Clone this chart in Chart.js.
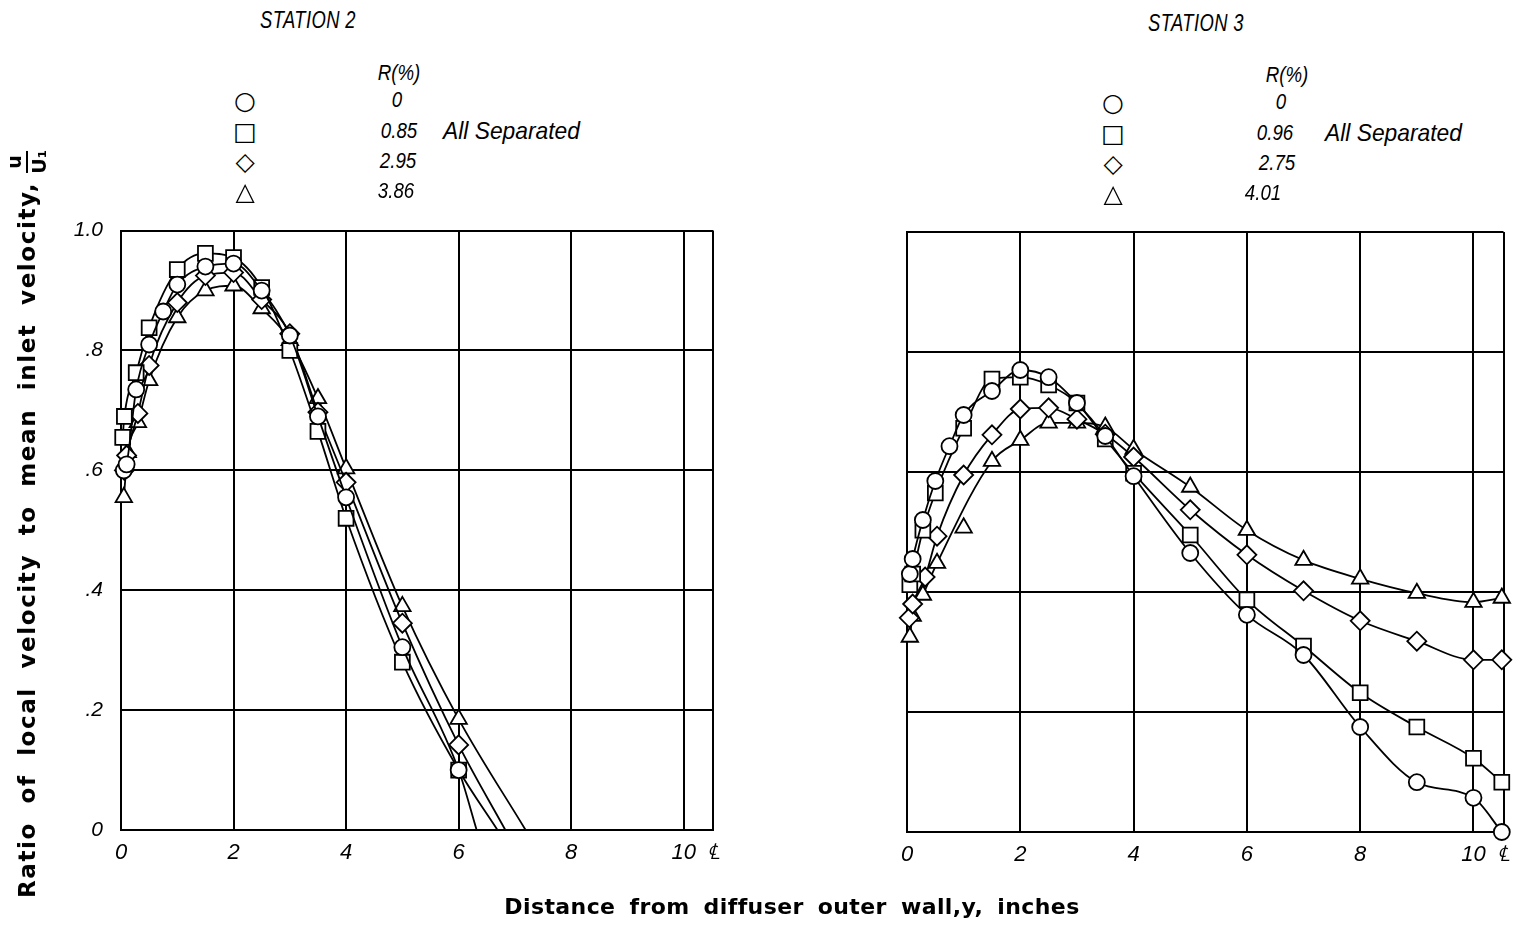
<!DOCTYPE html>
<html><head><meta charset="utf-8">
<script src="https://cdn.jsdelivr.net/npm/chart.js@4"></script>
<style>
html,body{margin:0;padding:0;background:#fff;width:1520px;height:931px;overflow:hidden;position:relative;color:#000}
.abs{position:absolute;white-space:nowrap;line-height:1}
canvas{position:absolute}
.hand{font-family:"Liberation Sans","DejaVu Sans",sans-serif;font-style:italic}
.title{font-size:23px;transform:translate(-50%,-50%) scaleX(0.8);letter-spacing:0.5px}
.val{font-size:22px;transform:translate(-50%,-50%) scaleX(0.85)}
.sym{font-family:"DejaVu Sans",sans-serif;font-size:25px;transform:translate(-50%,-50%)}
.note{font-size:24px;transform:translate(0,-50%) scaleX(0.95);transform-origin:left center}
.axt{font-family:"DejaVu Sans",sans-serif;font-weight:bold;font-size:22px;letter-spacing:0.4px;word-spacing:6px}
.axy{font-family:"DejaVu Sans",sans-serif;font-weight:bold;font-size:23px;letter-spacing:1.6px;word-spacing:9px}
</style></head><body>
<canvas id="c2" width="760" height="700" style="left:0;top:200px;width:760px;height:700px"></canvas>
<canvas id="c3" width="660" height="700" style="left:860px;top:200px;width:660px;height:700px"></canvas>
<div id="overlay"></div>
<script>
// ---------- data ----------
const xTickValues = [0, 2, 4, 6, 8, 10];
const yTickValues = [0, 0.2, 0.4, 0.6, 0.8, 1.0];
const yTickLabels = ['0', '.2', '.4', '.6', '.8', '1.0'];
const centerLabel = '\u2104';
const stationTitles = ['STATION 2', 'STATION 3'];
const legendHeader = 'R(%)';
const legendNote = 'All Separated';
const legendSymbols = ['\u25CB', '\u25A1', '\u25C7', '\u25B3'];
const markerStyles = ['circle', 'rect', 'rectRot', 'triangle'];
const station2Ratios = ['0', '0.85', '2.95', '3.86'];
const station3Ratios = ['0', '0.96', '2.75', '4.01'];
const yAxisTitle = 'Ratio of local velocity to mean inlet velocity,';
const xAxisTitle = 'Distance from diffuser outer wall,y, inches';

// Station 2 (y in inches, u/U1)
const s2CircleX = [0.05, 0.1, 0.27, 0.5, 0.75, 1.0, 1.5, 2.0, 2.5, 3.0, 3.5, 4.0, 5.0, 6.0];
const s2CircleY = [0.60, 0.61, 0.735, 0.81, 0.865, 0.91, 0.94, 0.945, 0.90, 0.825, 0.69, 0.555, 0.305, 0.10];
const s2SquareX = [0.03, 0.06, 0.27, 0.5, 1.0, 1.5, 2.0, 2.5, 3.0, 3.5, 4.0, 5.0, 6.0];
const s2SquareY = [0.655, 0.69, 0.763, 0.838, 0.935, 0.962, 0.955, 0.905, 0.80, 0.665, 0.52, 0.28, 0.10];
const s2DiamondX = [0.06, 0.1, 0.3, 0.5, 1.0, 1.5, 2.0, 2.5, 3.0, 3.5, 4.0, 5.0, 6.0];
const s2DiamondY = [0.60, 0.625, 0.695, 0.775, 0.88, 0.925, 0.93, 0.885, 0.828, 0.697, 0.58, 0.345, 0.142];
const s2TriangleX = [0.05, 0.12, 0.3, 0.5, 1.0, 1.5, 2.0, 2.5, 3.0, 3.5, 4.0, 5.0, 6.0];
const s2TriangleY = [0.555, 0.63, 0.68, 0.75, 0.855, 0.90, 0.908, 0.87, 0.817, 0.72, 0.603, 0.373, 0.185];
const s2CurveZeroX = [6.32, 6.69, 6.83, 7.19]; // where the faired curves reach u/U1 = 0

// Station 3
const s3CircleX = [0.05, 0.1, 0.28, 0.5, 0.75, 1.0, 1.5, 2.0, 2.5, 3.0, 3.5, 4.0, 5.0, 6.0, 7.0, 8.0, 9.0, 10.0, 10.5];
const s3CircleY = [0.43, 0.455, 0.52, 0.585, 0.643, 0.695, 0.735, 0.77, 0.758, 0.715, 0.66, 0.593, 0.465, 0.362, 0.295, 0.175, 0.083, 0.057, 0.0];
const s3SquareX = [0.05, 0.1, 0.28, 0.5, 1.0, 1.5, 2.0, 2.5, 3.0, 3.5, 4.0, 5.0, 6.0, 7.0, 8.0, 9.0, 10.0, 10.5];
const s3SquareY = [0.412, 0.43, 0.503, 0.565, 0.673, 0.755, 0.758, 0.745, 0.715, 0.655, 0.598, 0.495, 0.387, 0.31, 0.232, 0.175, 0.123, 0.083];
const s3DiamondX = [0.04, 0.1, 0.32, 0.53, 1.0, 1.5, 2.0, 2.5, 3.0, 3.5, 4.0, 5.0, 6.0, 7.0, 8.0, 9.0, 10.0, 10.5];
const s3DiamondY = [0.357, 0.38, 0.425, 0.493, 0.595, 0.662, 0.705, 0.707, 0.688, 0.663, 0.625, 0.537, 0.462, 0.402, 0.352, 0.318, 0.287, 0.287];
const s3TriangleX = [0.05, 0.1, 0.28, 0.53, 1.5, 2.0, 2.5, 3.0, 3.5, 4.0, 5.0, 6.0, 7.0, 8.0, 9.0, 10.0, 10.5];
const s3TriangleY = [0.325, 0.36, 0.395, 0.448, 0.618, 0.653, 0.682, 0.682, 0.675, 0.638, 0.575, 0.503, 0.453, 0.422, 0.398, 0.383, 0.39];
const s3TriangleOffCurveX = [1.0];
const s3TriangleOffCurveY = [0.507];

// ---------- build ----------
const radii = {circle: 8, rect: 10.5, rectRot: 9.5, triangle: 9.5};
function pts(xs, ys) { return xs.map((x, i) => ({x: x, y: ys[i]})); }

function series(xs, ys, style, zeroX) {
  const data = pts(xs, ys);
  const n = data.length;
  if (zeroX !== undefined) data.push({x: zeroX, y: 0});
  return {
    data: data,
    clip: false,
    pointStyle: style,
    pointRadius: ctx => (zeroX !== undefined && ctx.dataIndex === n) ? 0 : radii[style],
    pointBackgroundColor: '#fff',
    pointBorderColor: '#000',
    pointBorderWidth: 1.8,
    borderColor: '#000',
    borderWidth: 1.8,
    showLine: true,
    tension: 0.35,
    cubicInterpolationMode: 'monotone',
    fill: false
  };
}

function makeChart(id, datasets, o) {
  return new Chart(document.getElementById(id), {
    type: 'scatter',
    data: {datasets: datasets},
    options: {
      animation: false, responsive: false, devicePixelRatio: 1,
      layout: {padding: {top: o.padTop, right: o.padRight, left: 0, bottom: 0}},
      plugins: {legend: {display: false}, tooltip: {enabled: false}},
      scales: {
        x: {
          type: 'linear', min: 0, max: o.xMax,
          afterBuildTicks: s => { s.ticks = xTickValues.map(v => ({value: v})).concat([{value: o.xMax}]); },
          afterFit: s => { s.height = o.xAxisHeight; },
          ticks: {
            autoSkip: false, maxRotation: 0, padding: 10, color: '#000',
            font: {family: '"Liberation Sans", sans-serif', style: 'italic', size: 22},
            callback: v => (v === o.xMax ? centerLabel : String(v))
          },
          grid: {color: '#000', lineWidth: 2, drawTicks: false},
          border: {color: '#000', width: 2}
        },
        y: {
          type: 'linear', min: 0, max: 1,
          afterBuildTicks: s => { s.ticks = yTickValues.map(v => ({value: v})); },
          afterFit: s => { s.width = o.yAxisWidth; },
          ticks: {
            display: o.showY, padding: 18, color: '#000',
            font: {family: '"Liberation Sans", sans-serif', style: 'italic', size: 21},
            callback: (v, i) => yTickLabels[i]
          },
          grid: {color: '#000', lineWidth: 2, drawTicks: false},
          border: {color: '#000', width: 2}
        }
      }
    }
  });
}

makeChart('c2', [
  series(s2CircleX, s2CircleY, markerStyles[0], s2CurveZeroX[0]),
  series(s2SquareX, s2SquareY, markerStyles[1], s2CurveZeroX[1]),
  series(s2DiamondX, s2DiamondY, markerStyles[2], s2CurveZeroX[2]),
  series(s2TriangleX, s2TriangleY, markerStyles[3], s2CurveZeroX[3])
], {xMax: 10.52, padTop: 29, padRight: 47, xAxisHeight: 70, yAxisWidth: 121, showY: true});

const offCurve = series(s3TriangleOffCurveX, s3TriangleOffCurveY, markerStyles[3]);
offCurve.showLine = false;
makeChart('c3', [
  series(s3CircleX, s3CircleY, markerStyles[0]),
  series(s3SquareX, s3SquareY, markerStyles[1]),
  series(s3DiamondX, s3DiamondY, markerStyles[2]),
  series(s3TriangleX, s3TriangleY, markerStyles[3]),
  offCurve
], {xMax: 10.53, padTop: 32, padRight: 15, xAxisHeight: 68, yAxisWidth: 47, showY: false});

// ---------- text overlay ----------
const ov = document.getElementById('overlay');
function add(cls, text, x, y, extra) {
  const d = document.createElement('div');
  d.className = 'abs ' + cls;
  d.textContent = text;
  d.style.left = x + 'px'; d.style.top = y + 'px';
  if (extra) Object.assign(d.style, extra);
  ov.appendChild(d);
  return d;
}
const panels = [
  {title: stationTitles[0], tx: 308, ty: 20, symX: 245, rows: [100, 131, 161, 191], valX: [397, 399, 398, 396], hx: 399, hy: 73, noteX: 443, ratios: station2Ratios},
  {title: stationTitles[1], tx: 1196, ty: 23, symX: 1113, rows: [102, 133, 163, 193], valX: [1281, 1275, 1277, 1263], hx: 1287, hy: 75, noteX: 1325, ratios: station3Ratios}
];
panels.forEach(p => {
  add('hand title', p.title, p.tx, p.ty);
  add('hand val', legendHeader, p.hx, p.hy);
  p.ratios.forEach((r, i) => {
    add('sym', legendSymbols[i], p.symX, p.rows[i]);
    add('hand val', r, p.valX[i], p.rows[i]);
  });
  add('hand note', legendNote, p.noteX, p.rows[1]);
});
// x axis title
add('axt', xAxisTitle, 792, 907, {transform: 'translate(-50%,-50%)'});
// y axis title (rotated) with fraction u / U1
const yt = document.createElement('div');
yt.className = 'abs axy';
yt.style.left = '27px'; yt.style.top = '524px';
yt.style.transform = 'translate(-50%,-50%) rotate(-90deg)';
yt.style.display = 'flex'; yt.style.alignItems = 'center';
const ytxt = document.createElement('span'); ytxt.textContent = yAxisTitle; yt.appendChild(ytxt);
const frac = document.createElement('span');
frac.style.display = 'inline-flex'; frac.style.flexDirection = 'column'; frac.style.alignItems = 'center';
frac.style.marginLeft = '8px'; frac.style.fontSize = '19px'; frac.style.lineHeight = '1'; frac.style.letterSpacing = '0';
const num = document.createElement('span'); num.textContent = 'u';
num.style.borderBottom = '2px solid #000'; num.style.padding = '0 4px 2px 4px';
const den = document.createElement('span'); den.textContent = 'U\u2081'; den.style.paddingTop = '2px';
frac.appendChild(num); frac.appendChild(den); yt.appendChild(frac);
ov.appendChild(yt);
</script>
</body></html>
